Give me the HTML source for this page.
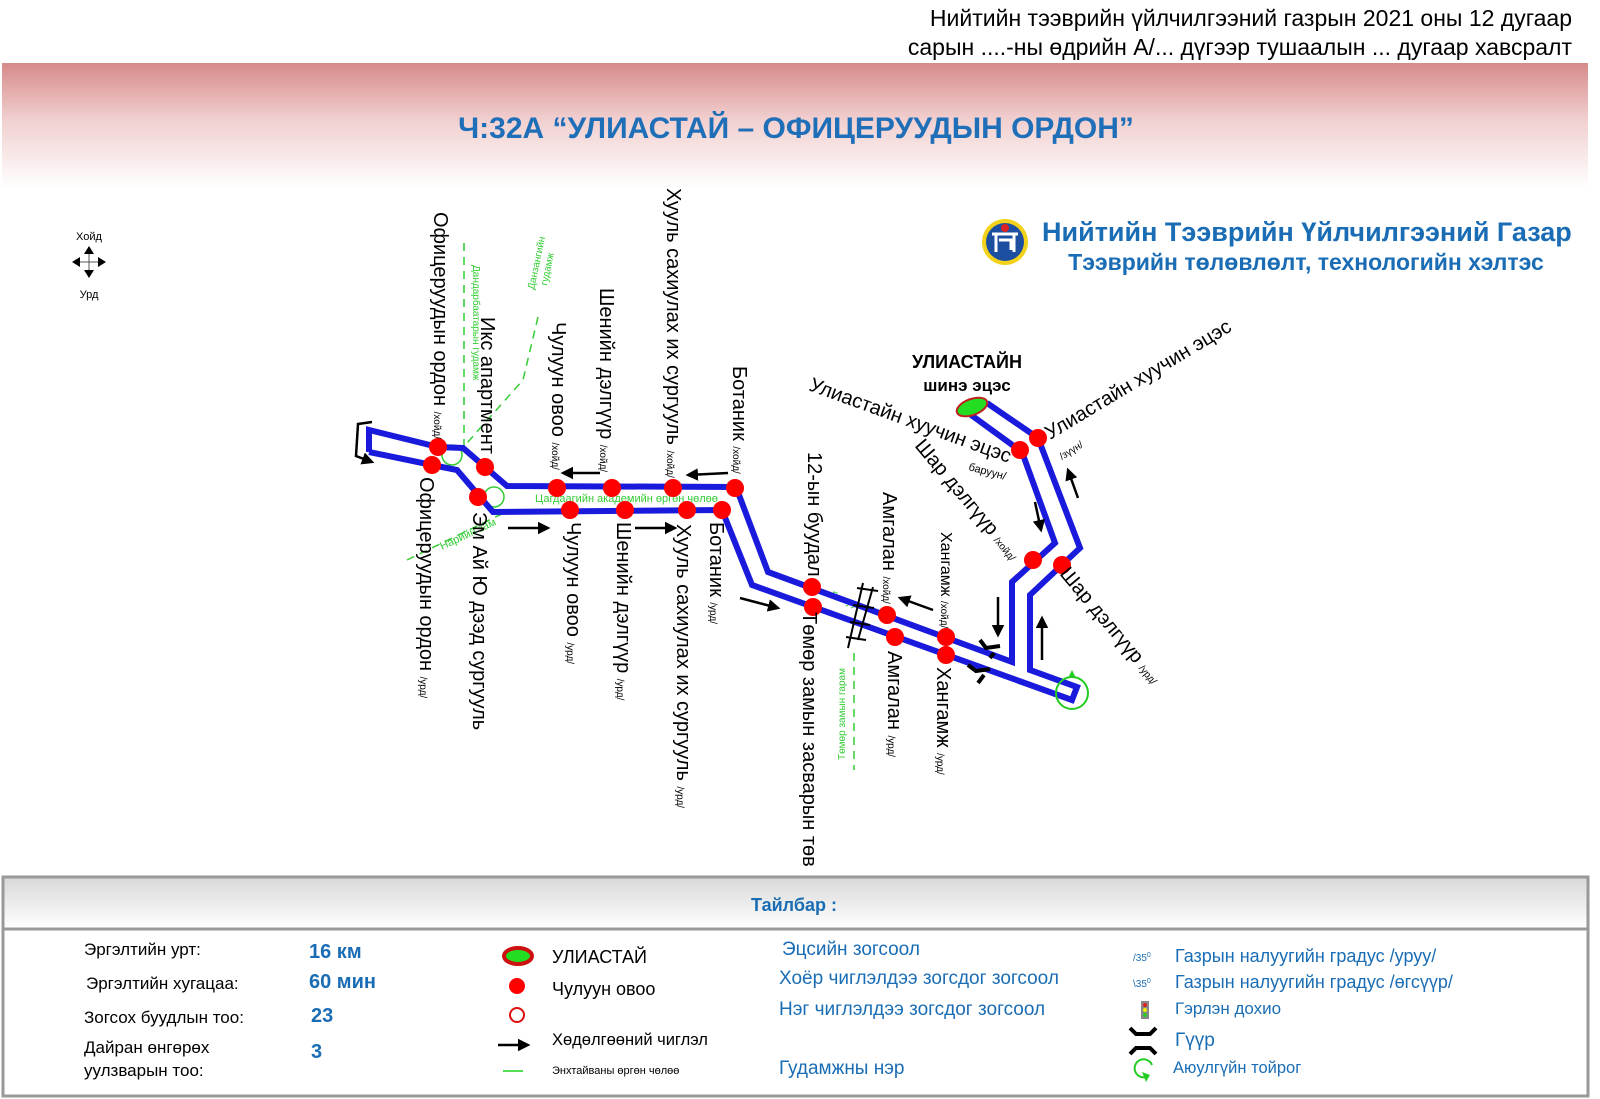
<!DOCTYPE html>
<html><head><meta charset="utf-8"><style>
html,body{margin:0;padding:0;background:#fff}
svg{display:block}
text{font-family:"Liberation Sans",sans-serif}
</style></head><body>
<svg width="1600" height="1099" viewBox="0 0 1600 1099" xmlns="http://www.w3.org/2000/svg">
<defs>
<linearGradient id="pk" x1="0" y1="0" x2="0" y2="1">
<stop offset="0" stop-color="#d78a8a"/><stop offset="0.45" stop-color="#f1cfcf"/><stop offset="1" stop-color="#ffffff"/>
</linearGradient>
<linearGradient id="lg" x1="0" y1="0" x2="0" y2="1">
<stop offset="0" stop-color="#d9d9d9"/><stop offset="1" stop-color="#ffffff"/>
</linearGradient>
<marker id="ah" viewBox="0 0 10 10" refX="8" refY="5" markerWidth="5" markerHeight="5" orient="auto"><path d="M0,0 L10,5 L0,10 z" fill="#000"/></marker>
</defs>

<!-- header -->
<text x="1572" y="26" font-size="23" text-anchor="end" fill="#000">Нийтийн тээврийн үйлчилгээний газрын 2021 оны 12 дугаар</text>
<text x="1572" y="55" font-size="23" text-anchor="end" fill="#000">сарын ....-ны өдрийн А/... дүгээр тушаалын ... дугаар хавсралт</text>
<rect x="2" y="63" width="1586" height="125" fill="url(#pk)"/>
<text x="796" y="138" font-size="30" font-weight="bold" text-anchor="middle" fill="#1f6fb8">Ч:32А “УЛИАСТАЙ – ОФИЦЕРУУДЫН ОРДОН”</text>

<!-- logo -->
<circle cx="1005" cy="242" r="23" fill="#f2d21a"/>
<circle cx="1005" cy="242" r="19" fill="#1d4fa0"/>
<path d="M992,234 h26 M996,234 v18 M1014,234 v18 M999,240 h12 v10" stroke="#fff" stroke-width="3" fill="none"/>
<circle cx="1005" cy="228" r="4" fill="#d22"/>
<text x="1042" y="241" font-size="27" font-weight="bold" fill="#1a6db5">Нийтийн Тээврийн Үйлчилгээний Газар</text>
<text x="1306" y="270" font-size="23" font-weight="bold" text-anchor="middle" fill="#1a6db5">Тээврийн төлөвлөлт, технологийн хэлтэс</text>

<!-- compass -->
<text x="89" y="240" font-size="11" text-anchor="middle">Хойд</text>
<text x="89" y="298" font-size="11" text-anchor="middle">Урд</text>
<line x1="89" y1="250" x2="89" y2="274" stroke="#555" stroke-width="1"/>
<line x1="77" y1="262" x2="101" y2="262" stroke="#555" stroke-width="1"/>
<path d="M89,246 l-5,8 h10z M89,278 l-5,-8 h10z M72,262 l8,-5 v10z M106,262 l-8,-5 v10z" fill="#000"/>

<!-- green streets -->
<g stroke="#33cc33" stroke-width="1.5" fill="none" stroke-dasharray="8,6">
<line x1="464" y1="243" x2="464" y2="447"/>
<path d="M538,317 L523,380 L467,443"/>
<line x1="407" y1="560" x2="510" y2="510"/>
<line x1="854" y1="653" x2="854" y2="770"/>
</g>
<g fill="#33cc33" font-size="11">
<text x="535" y="502">Цагдаагийн академийн өргөн чөлөө</text>
<text transform="translate(473,265) rotate(90)" font-size="10">Дандарбаатарын гудамж</text>
<text transform="translate(534,290) rotate(-78)" font-size="10">Данзангийн</text>
<text transform="translate(547,286) rotate(-78)" font-size="10">гудамж</text>
<text transform="translate(442,550) rotate(-25)">Нарийн зам</text>
<text transform="translate(830,598) rotate(20)">Гачуурын зам</text>
<text transform="translate(845,760) rotate(-90)" font-size="10">Төмөр замын гарам</text>
</g>
<circle cx="452" cy="455" r="10" fill="none" stroke="#33cc33" stroke-width="1.5"/>
<circle cx="494" cy="497" r="10" fill="none" stroke="#33cc33" stroke-width="1.5"/>

<!-- route -->
<g stroke="#1a1adc" stroke-width="6" fill="none" stroke-linejoin="miter">
<path d="M369,452 L369,430 L438,447 L463,448 L507,486 L736,487 L768,572 L1012,662 L1012,582 L1055,543 L1022,452 L967,412"/>
<path d="M369,452 L432,465 L457,470 L493,512 L722,510 L752,585 L1072,700 L1077,687 L1030,670 L1030,595 L1080,548 L1038,438 L987,403"/>
</g>
<ellipse cx="972" cy="407" rx="16" ry="8" transform="rotate(-20 972 407)" fill="#22dd22" stroke="#c02020" stroke-width="2"/>
<circle cx="1072" cy="693" r="16" fill="none" stroke="#22cc22" stroke-width="2"/>
<path d="M1068,678 l4,-8 l4,8z" fill="#22cc22"/>

<!-- railway crossing -->
<g stroke="#000" stroke-width="2">
<line x1="863" y1="583" x2="848" y2="648"/>
<line x1="873" y1="587" x2="858" y2="640"/>
<line x1="857" y1="588" x2="878" y2="591"/>
<line x1="853" y1="605" x2="874" y2="608"/>
<line x1="850" y1="622" x2="870" y2="625"/>
<line x1="846" y1="637" x2="866" y2="640"/>
</g>
<!-- bridges -->
<g stroke="#000" stroke-width="4" fill="none">
<path d="M980,640 l6,8 l14,-2"/><path d="M990,658 l4,-5"/>
<path d="M968,665 l8,6 l14,-2"/><path d="M978,683 l6,-8"/>
</g>

<!-- stops -->
<g fill="#ff0000">
<circle cx="438" cy="447" r="9"/><circle cx="432" cy="465" r="9"/>
<circle cx="485" cy="467" r="9"/><circle cx="478" cy="497" r="9"/>
<circle cx="557" cy="488" r="9"/><circle cx="612" cy="488" r="9"/><circle cx="673" cy="488" r="9"/><circle cx="735" cy="488" r="9"/>
<circle cx="570" cy="510" r="9"/><circle cx="625" cy="510" r="9"/><circle cx="687" cy="510" r="9"/><circle cx="722" cy="510" r="9"/>
<circle cx="812" cy="587" r="9"/><circle cx="887" cy="615" r="9"/><circle cx="946" cy="637" r="9"/>
<circle cx="813" cy="607" r="9"/><circle cx="895" cy="637" r="9"/><circle cx="946" cy="655" r="9"/>
<circle cx="1020" cy="450" r="9"/><circle cx="1038" cy="438" r="9"/>
<circle cx="1033" cy="560" r="9"/><circle cx="1062" cy="565" r="9"/>
</g>

<!-- arrows -->
<g stroke="#000" stroke-width="2.5" marker-end="url(#ah)">
<line x1="600" y1="473" x2="563" y2="473"/>
<line x1="728" y1="473" x2="688" y2="475"/>
<line x1="508" y1="528" x2="548" y2="528"/>
<line x1="635" y1="528" x2="675" y2="528"/>
<line x1="740" y1="598" x2="778" y2="608"/>
<line x1="933" y1="610" x2="900" y2="598"/>
<line x1="1035" y1="502" x2="1041" y2="530"/>
<line x1="1078" y1="498" x2="1068" y2="470"/>
<line x1="998" y1="597" x2="998" y2="635"/>
<line x1="1042" y1="660" x2="1042" y2="618"/>
</g>
<path d="M372,422 L358,424 L356,456 L372,462" stroke="#000" stroke-width="2.5" fill="none" marker-end="url(#ah)"/>

<!-- labels -->
<g font-size="20" fill="#000">
<text transform="translate(434,212) rotate(90)">Офицеруудын ордон <tspan font-size="10">/хойд/</tspan></text>
<text transform="translate(481,317) rotate(90)">Икс апартмент</text>
<text transform="translate(552,322) rotate(90)">Чулуун овоо <tspan font-size="10">/хойд/</tspan></text>
<text transform="translate(600,288) rotate(90)">Шенийн дэлгүүр <tspan font-size="10">/хойд/</tspan></text>
<text transform="translate(667,188) rotate(90)">Хууль сахиулах их сургууль <tspan font-size="10">/хойд/</tspan></text>
<text transform="translate(733,366) rotate(90)">Ботаник <tspan font-size="10">/хойд/</tspan></text>
<text transform="translate(420,477) rotate(90)">Офицеруудын ордон <tspan font-size="10">/урд/</tspan></text>
<text transform="translate(473,512) rotate(90)">Эм Ай Ю дээд сургууль</text>
<text transform="translate(567,522) rotate(90)">Чулуун овоо <tspan font-size="10">/урд/</tspan></text>
<text transform="translate(617,522) rotate(90)">Шенийн дэлгүүр <tspan font-size="10">/урд/</tspan></text>
<text transform="translate(677,524) rotate(90)">Хууль сахиулах их сургууль <tspan font-size="10">/урд/</tspan></text>
<text transform="translate(710,522) rotate(90)">Ботаник <tspan font-size="10">/урд/</tspan></text>
<text transform="translate(808,452) rotate(90)">12-ын буудал</text>
<text transform="translate(803,612) rotate(90)">Төмөр замын засварын төв</text>
<text transform="translate(883,492) rotate(90)">Амгалан <tspan font-size="10">/хойд/</tspan></text>
<text transform="translate(888,651) rotate(90)">Амгалан <tspan font-size="10">/урд/</tspan></text>
<text transform="translate(941,532) rotate(90)" font-size="16">Хангамж <tspan font-size="10">/хойд/</tspan></text>
<text transform="translate(937,667) rotate(90)">Хангамж <tspan font-size="10">/урд/</tspan></text>
<text x="967" y="368" font-size="18" font-weight="bold" text-anchor="middle">УЛИАСТАЙН</text>
<text x="967" y="391" font-size="17" font-weight="bold" text-anchor="middle">шинэ эцэс</text>
<text transform="translate(808,390) rotate(20)">Улиастайн хуучин эцэс</text>
<text x="968" y="470" font-size="11" transform="rotate(15 968 470)">баруун/</text>
<text transform="translate(914,446) rotate(50)">Шар дэлгүүр <tspan font-size="10">/хойд/</tspan></text>
<text transform="translate(1050,440) rotate(-31)">Улиастайн хуучин эцэс</text>
<text x="1062" y="460" font-size="10" transform="rotate(-32 1062 460)">/зүүн/</text>
<text transform="translate(1059,574) rotate(50)">Шар дэлгүүр <tspan font-size="10">/урд/</tspan></text>
</g>

<!-- legend -->
<rect x="3" y="877" width="1585" height="219" fill="#fff" stroke="#999" stroke-width="3"/>
<rect x="4.5" y="878.5" width="1582" height="50" fill="url(#lg)"/>
<line x1="3" y1="929" x2="1588" y2="929" stroke="#999" stroke-width="3"/>
<text x="794" y="911" font-size="18" font-weight="bold" text-anchor="middle" fill="#1a6db5">Тайлбар :</text>

<g font-size="17" fill="#000">
<text x="84" y="955">Эргэлтийн урт:</text>
<text x="86" y="989">Эргэлтийн хугацаа:</text>
<text x="84" y="1023">Зогсох буудлын тоо:</text>
<text x="84" y="1053">Дайран өнгөрөх</text>
<text x="84" y="1076">уулзварын тоо:</text>
</g>
<g font-size="20" font-weight="bold" fill="#1a6db5">
<text x="309" y="958">16 км</text>
<text x="309" y="988">60 мин</text>
<text x="311" y="1022">23</text>
<text x="311" y="1058">3</text>
</g>
<ellipse cx="518" cy="956" rx="14" ry="8" fill="#22dd22" stroke="#cc1111" stroke-width="4"/>
<circle cx="517" cy="986" r="8" fill="#ff0000"/>
<circle cx="517" cy="1015" r="7" fill="none" stroke="#dd1111" stroke-width="2"/>
<line x1="498" y1="1045" x2="528" y2="1045" stroke="#000" stroke-width="2.5" marker-end="url(#ah)"/>
<line x1="503" y1="1071" x2="523" y2="1071" stroke="#55dd55" stroke-width="2"/>
<g fill="#000">
<text x="552" y="963" font-size="18">УЛИАСТАЙ</text>
<text x="552" y="995" font-size="18">Чулуун овоо</text>
<text x="552" y="1045" font-size="16.5">Хөдөлгөөний чиглэл</text>
<text x="552" y="1074" font-size="11">Энхтайваны өргөн чөлөө</text>
</g>
<g fill="#1a6db5" font-size="19">
<text x="782" y="955">Эцсийн зогсоол</text>
<text x="779" y="984">Хоёр чиглэлдээ зогсдог зогсоол</text>
<text x="779" y="1015">Нэг чиглэлдээ зогсдог зогсоол</text>
<text x="779" y="1074">Гудамжны нэр</text>
<text x="1175" y="962" font-size="18">Газрын налуугийн градус /уруу/</text>
<text x="1175" y="988" font-size="18">Газрын налуугийн градус /өгсүүр/</text>
<text x="1175" y="1014" font-size="17">Гэрлэн дохио</text>
<text x="1175" y="1046">Гүүр</text>
<text x="1173" y="1073" font-size="16.5">Аюулгүйн тойрог</text>
<text x="1133" y="961" font-size="10">/35<tspan font-size="7" dy="-4">0</tspan></text>
<text x="1133" y="987" font-size="10">\35<tspan font-size="7" dy="-4">0</tspan></text>
</g>
<rect x="1141" y="1001" width="8" height="18" fill="#888"/>
<circle cx="1145" cy="1005" r="2" fill="#d22"/><circle cx="1145" cy="1010" r="2" fill="#ee0"/><circle cx="1145" cy="1015" r="2" fill="#2c2"/>
<path d="M1130,1028 l6,6 h14 l6,-6 M1130,1054 l6,-6 h14 l6,6" stroke="#000" stroke-width="4" fill="none"/>
<path d="M1152,1065 a9,9 0 1 0 -6,12" stroke="#22cc22" stroke-width="2" fill="none"/>
<path d="M1142,1072 l8,3 l-4,7z" fill="#22cc22"/>
</svg>
</body></html>
